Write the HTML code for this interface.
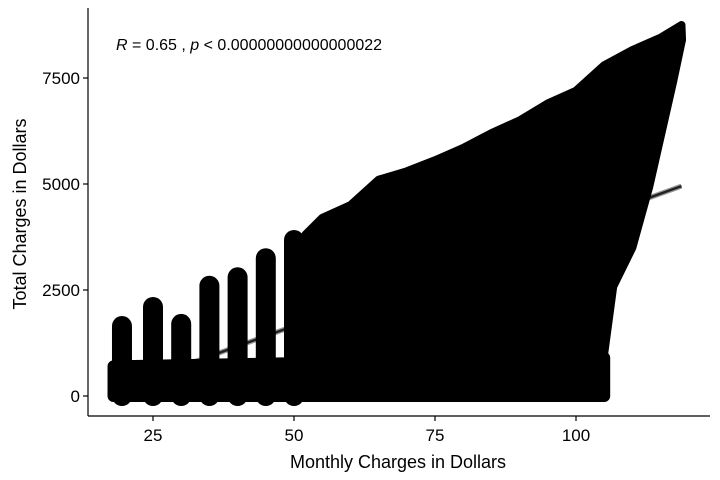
<!DOCTYPE html>
<html><head><meta charset="utf-8">
<style>
body{margin:0;background:#fff;}
svg{display:block;font-family:"Liberation Sans",Arial,sans-serif;}
</style></head>
<body>
<svg id="chart" width="720" height="480" viewBox="0 0 720 480">
<g id="fit"></g>
<g id="marks"></g>
<g id="axes"></g>
<text x="116" y="50" font-size="16" fill="#000"><tspan font-style="italic">R</tspan> = 0.65 , <tspan font-style="italic">p</tspan> &lt; 0.00000000000000022</text>
<text x="398" y="468" font-size="18" text-anchor="middle">Monthly Charges in Dollars</text>
<text transform="translate(26,214) rotate(-90)" font-size="18" text-anchor="middle">Total Charges in Dollars</text>
</svg>
<script>
const stripX    = [19.5,25,30,35,40,45,50];
const stripHigh = [1650,2100,1700,2600,2800,3250,3680];
const stripLow  = [0,0,0,0,0,0,0];
const denseX = [52,55,60,65,70,75,80,85,90,95,100,105,110,115,118.7,118.8,117.2,113,110,106.6,105,104.3,52];
const denseY = [3800,4200,4500,5100,5300,5560,5850,6200,6500,6900,7200,7800,8160,8450,8750,8400,7400,4940,3500,2580,1000,0,0];
const bottomX = [18,105,105,18];
const bottomY = [0,0,900,700];
const lineX = [18,118.7];
const lineY = [118,4950];
const xTicks = [25,50,75,100];
const yTicks = [0,2500,5000,7500];

const xs = v => 12 + v*5.64;
const ys = v => 396 - v*0.0424;
const NS="http://www.w3.org/2000/svg";
const marks=document.getElementById('marks');
const fit=document.getElementById('fit');
const axes=document.getElementById('axes');

const band=document.createElementNS(NS,'line');
band.setAttribute('x1',xs(lineX[0]));band.setAttribute('y1',ys(lineY[0]));
band.setAttribute('x2',xs(lineX[1]));band.setAttribute('y2',ys(lineY[1]));
band.setAttribute('stroke','#999');band.setAttribute('stroke-width','5');


fit.appendChild(band);
const rl=document.createElementNS(NS,'line');
rl.setAttribute('x1',xs(lineX[0]));rl.setAttribute('y1',ys(lineY[0]));
rl.setAttribute('x2',xs(lineX[1]));rl.setAttribute('y2',ys(lineY[1]));
rl.setAttribute('stroke','#222');rl.setAttribute('stroke-width','2.5');


fit.appendChild(rl);

const poly=document.createElementNS(NS,'polygon');
poly.setAttribute('points',bottomX.map((x,i)=>xs(x)+','+ys(bottomY[i])).join(' '));
poly.setAttribute('fill','#000');
poly.setAttribute('stroke','#000');poly.setAttribute('stroke-width','12');poly.setAttribute('stroke-linejoin','round');


marks.appendChild(poly);

const dense=document.createElementNS(NS,'polygon');
dense.setAttribute('points',denseX.map((x,i)=>xs(x)+','+ys(denseY[i])).join(' '));
dense.setAttribute('fill','#000');
dense.setAttribute('stroke','#000');dense.setAttribute('stroke-width','8');dense.setAttribute('stroke-linejoin','round');


marks.appendChild(dense);

stripX.forEach((x,i)=>{
  const l=document.createElementNS(NS,'line');
  l.setAttribute('x1',xs(x));l.setAttribute('x2',xs(x));
  l.setAttribute('y1',ys(stripLow[i]));l.setAttribute('y2',ys(stripHigh[i]));
  l.setAttribute('stroke','#000');l.setAttribute('stroke-width','20');l.setAttribute('stroke-linecap','round');
  
  
  marks.appendChild(l);
});

function ln(x1,y1,x2,y2,name){
  const l=document.createElementNS(NS,'line');
  l.setAttribute('x1',x1);l.setAttribute('y1',y1);l.setAttribute('x2',x2);l.setAttribute('y2',y2);
  l.setAttribute('stroke','#000');l.setAttribute('stroke-width','1.2');
  
  
  axes.appendChild(l);
}
ln(88,8,88,416,'y-axis-line');
ln(88,416,710,416,'x-axis-line');
xTicks.forEach(t=>{
  ln(xs(t),416,xs(t),421,'x-tick');
  const tx=document.createElementNS(NS,'text');
  tx.setAttribute('x',xs(t));tx.setAttribute('y',441);tx.setAttribute('font-size','17');tx.setAttribute('text-anchor','middle');
  tx.textContent=t;
  
  
  axes.appendChild(tx);
});
yTicks.forEach(t=>{
  ln(83,ys(t),88,ys(t),'y-tick');
  const tx=document.createElementNS(NS,'text');
  tx.setAttribute('x',80);tx.setAttribute('y',ys(t)+6);tx.setAttribute('font-size','17');tx.setAttribute('text-anchor','end');
  tx.textContent=t;
  
  
  axes.appendChild(tx);
});
</script>
</body></html>
